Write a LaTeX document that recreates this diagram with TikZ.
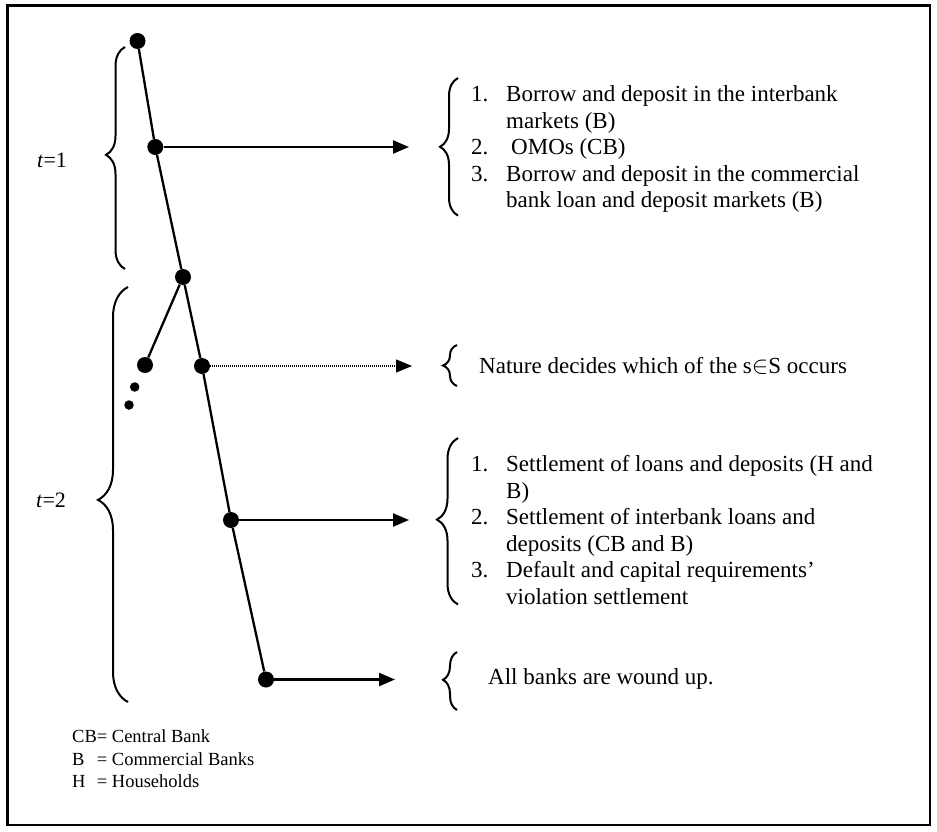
\documentclass[tikz,border=0pt]{standalone}
\usepackage{fontspec}
\setmainfont{Liberation Serif}
\usetikzlibrary{arrows.meta,decorations.pathreplacing}
\begin{document}
\begin{tikzpicture}[x=1bp,y=-1bp,
  dotnode/.style={circle,fill=black,inner sep=0pt,minimum size=16bp},
  smalldot/.style={circle,fill=black,inner sep=0pt,minimum size=9.5bp},
  edge/.style={line width=2.3bp},
  arr/.style={line width=2.3bp,-{Triangle[length=16bp,width=13bp]}},
  dotarr/.style={line width=1.1bp,dash pattern=on 1bp off 1bp,-{Triangle[length=16bp,width=13bp]}},
  curly/.style 2 args={decorate,decoration={brace,amplitude=#1,aspect=#2},line width=2bp},
  txt/.style={inner sep=0pt,anchor=west,font=\fontsize{23bp}{26.5bp}\selectfont},
  legend/.style={inner sep=0pt,anchor=west,font=\fontsize{18.5bp}{22.5bp}\selectfont},
  tlab/.style={inner sep=0pt,font=\fontsize{22bp}{26bp}\selectfont}]
\useasboundingbox (0,0) rectangle (937,832);
% frame
\draw[line width=2.3bp] (7.5,5.5) rectangle (930,825);
% tree nodes
\node[dotnode] (n1) at (137.5,41) {};
\node[dotnode] (n2) at (155.3,147) {};
\node[dotnode] (n3) at (183,277) {};
\node[dotnode] (n4) at (145,365) {};
\node[dotnode] (n5) at (202,366) {};
\node[smalldot] (s1) at (134.7,387) {};
\node[smalldot] (s2) at (129,405) {};
\node[dotnode] (n6) at (231,520) {};
\node[dotnode] (n7) at (266,679.5) {};
\draw[edge] (n1) -- (n2);
\draw[edge] (n2) -- (n3);
\draw[edge] (n3) -- (n4);
\draw[edge] (n3) -- (n5);
\draw[edge] (n5) -- (n6);
\draw[edge] (n6) -- (n7);
% arrow ends
\coordinate (a1) at (409,147);
\coordinate (a2) at (412,366);
\coordinate (a3) at (409,520);
\coordinate (a4) at (395,679.5);
\draw[arr] (n2) -- (a1);
\draw[dotarr] (n5) -- (a2);
\draw[arr] (n6) -- (a3);
\draw[arr] (n7) -- (a4);
% left braces and labels
\draw[curly={19bp}{0.514}] (125,269) -- (125,47);
\draw[curly={30bp}{0.487}] (128,702) -- (128,287);
\node[tlab] (t1) at (52,160) {\textit{t}=1};
\node[tlab] (t2) at (51,500) {\textit{t}=2};
% right braces
\draw[curly={18bp}{0.5}] (458,215.6) -- (458,78);
\draw[curly={14bp}{0.5}] (457,386) -- (457,345);
\draw[curly={21bp}{0.51}] (458,604.5) -- (458,438);
\draw[curly={14bp}{0.52}] (457,710) -- (457,652);
% text blocks
\node[txt] (b1) at (471,149.2) {\begin{tabular}{@{}p{35bp}@{}l@{}}
1. & Borrow and deposit in the interbank\\
   & markets (B)\\
2. & \hspace{5bp}OMOs (CB)\\
3. & Borrow and deposit in the commercial\\
   & bank loan and deposit markets (B)
\end{tabular}};
\node[txt] (b2) at (479,365.5) {Nature decides which of the s$\in$S occurs};
\node[txt] (b3) at (471,532.5) {\begin{tabular}{@{}p{35bp}@{}l@{}}
1. & Settlement of loans and deposits (H and\\
   & B)\\
2. & Settlement of interbank loans and\\
   & deposits (CB and B)\\
3. & Default and capital requirements’\\
   & violation settlement
\end{tabular}};
\node[txt] (b4) at (488,679) {All banks are wound up.};
% legend
\node[legend] (lg) at (72,760.5) {\begin{tabular}{@{}l@{}l@{}}
CB & = Central Bank\\
B  & = Commercial Banks\\
H  & = Households
\end{tabular}};
\end{tikzpicture}
\end{document}
